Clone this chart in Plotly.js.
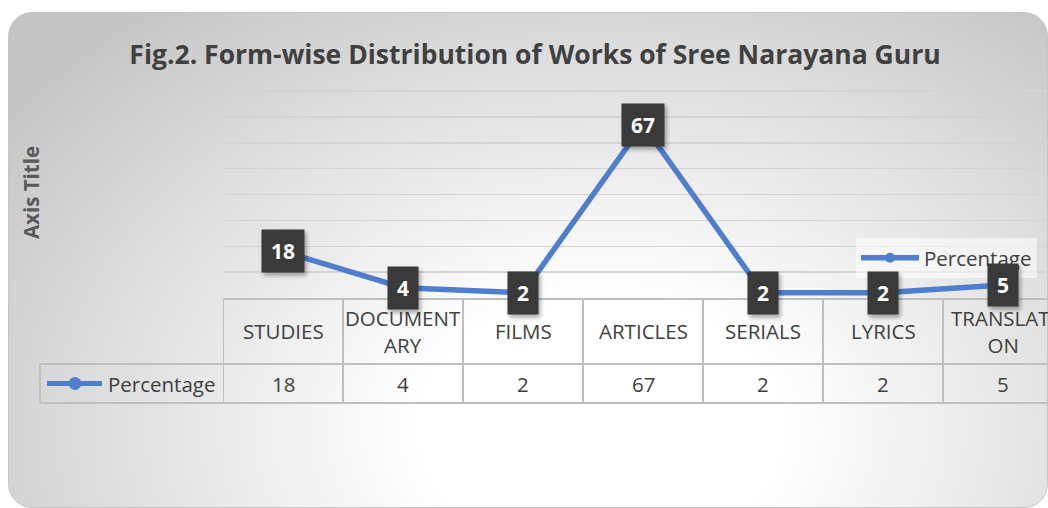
<!DOCTYPE html>
<html><head><meta charset="utf-8">
<script src="https://cdn.plot.ly/plotly-3.0.1.min.js"></script>
<style>
html,body{margin:0;padding:0;width:1048px;height:508px;overflow:hidden;background:#fff;}
#bg{position:absolute;left:8px;top:12px;width:1038px;height:494px;border:1px solid #c6c6c6;border-radius:24px;
background:radial-gradient(ellipse 72% 110% at 57% 84%, #ffffff 0%, #ffffff 24%, #c4c4c4 100%);}
#chart{position:absolute;left:0;top:0;width:1048px;height:508px;}
.annotation-text-g rect.bg{filter:drop-shadow(2px 3px 2px rgba(0,0,0,0.35));}
</style></head><body>
<div id="bg"></div><div id="chart"></div>
<script>
const categories = ["STUDIES","DOCUMENTARY","FILMS","ARTICLES","SERIALS","LYRICS","TRANSLATION"];
const categoryLabels = ["STUDIES","DOCUMENT<br>ARY","FILMS","ARTICLES","SERIALS","LYRICS","TRANSLATI<br>ON"];
const percentage = [18,4,2,67,2,2,5];
const yTickVals = [10, 20, 30, 40, 50, 60, 70, 80];
const seriesName = "Percentage";
const chartTitle = "Fig.2. Form-wise Distribution of Works of Sree Narayana Guru";
const yAxisTitle = "Axis Title";

const W = 1048, H = 508, ML = 223, MR = 0, MT = 87, MB = 210;
const PW = W - ML - MR, PH = H - MT - MB;
const YTOP = 80 * PH / 207;               // keeps 80 at pixel row 91
const px2x = p => (p - ML) / PW;          // pixel -> paper x
const py2y = p => (H - MB - p) / PH;      // pixel -> paper y
const FONT = "Open Sans, sans-serif";
const TXT = "#404040";
const LINE = "#4f7fcc";
const BORDER = "#bfbfbf";
const FS = 20.5;

const headerY = py2y(331), valueY = py2y(383.5);
const rowTop = py2y(364), rowBot = py2y(403), tableLeft = px2x(40);

const annotations = [];
const shapes = [];
categories.forEach((c, i) => {
  annotations.push({x: i, xref: 'x', y: headerY, yref: 'paper', text: categoryLabels[i], showarrow: false,
    xanchor: 'center', yanchor: 'middle', font: {family: FONT, size: FS, color: TXT}});
  annotations.push({x: i, xref: 'x', y: valueY, yref: 'paper', text: String(percentage[i]), showarrow: false,
    xanchor: 'center', yanchor: 'middle', font: {family: FONT, size: FS, color: TXT}});
  annotations.push({x: i, xref: 'x', y: percentage[i], yref: 'y', text: '<b>' + percentage[i] + '</b>', showarrow: false,
    xanchor: 'center', yanchor: 'middle', bgcolor: '#3a3a3a', borderpad: 9, height: 24,
    font: {family: FONT, size: 21, color: '#ffffff'}});
  shapes.push({type: 'line', xref: 'x', yref: 'paper', x0: i - 0.5, x1: i - 0.5, y0: 0, y1: rowBot,
    line: {color: BORDER, width: 2}});
});
// series name cell in the table
annotations.push({x: px2x(106), xref: 'paper', y: valueY, yref: 'paper', text: seriesName, showarrow: false,
  xanchor: 'left', yanchor: 'middle', font: {family: FONT, size: FS, color: TXT}});
// table row borders
[rowTop, rowBot].forEach(y => shapes.push({type: 'line', xref: 'paper', yref: 'paper', x0: tableLeft, x1: 1, y0: y, y1: y,
  line: {color: BORDER, width: 2}}));
shapes.push({type: 'line', xref: 'paper', yref: 'paper', x0: tableLeft, x1: tableLeft, y0: rowTop, y1: rowBot,
  line: {color: BORDER, width: 2}});
// legend key in table
shapes.push({type: 'line', xref: 'paper', yref: 'paper', x0: px2x(47), x1: px2x(102), y0: valueY, y1: valueY,
  line: {color: LINE, width: 5}});
shapes.push({type: 'circle', xref: 'paper', yref: 'paper', x0: px2x(69), x1: px2x(81), y0: py2y(377.5), y1: py2y(389.5),
  fillcolor: LINE, line: {color: LINE, width: 1}});

const trace = {
  type: 'scatter', mode: 'lines+markers', name: seriesName,
  x: categories, y: percentage,
  line: {color: LINE, width: 5.5}, marker: {color: LINE, size: 10},
  cliponaxis: false
};

const layout = {
  width: W, height: H, autosize: false,
  margin: {l: ML, r: MR, t: MT, b: MB, pad: 0},
  paper_bgcolor: 'rgba(0,0,0,0)', plot_bgcolor: 'rgba(0,0,0,0)',
  title: {text: '<b>' + chartTitle + '</b>', x: 535 / W, xanchor: 'center', xref: 'container',
    y: 1 - 55 / H, yanchor: 'middle', yref: 'container', font: {family: FONT, size: 26.5, color: TXT}},
  xaxis: {type: 'category', range: [-0.5, -0.5 + PW / 120], showticklabels: false, ticks: '',
    showgrid: false, showline: true, linecolor: BORDER, linewidth: 2, zeroline: false, fixedrange: true},
  yaxis: {range: [0, YTOP], tickvals: yTickVals, showticklabels: false, ticks: '',
    showgrid: true, gridcolor: '#d3d3d3', gridwidth: 1.5,
    zeroline: false, showline: false, fixedrange: true,
    title: {text: '<b>' + yAxisTitle + '</b>', standoff: 176, font: {family: FONT, size: 20.5, color: '#595959'}}},
  showlegend: true,
  legend: {x: px2x(856), y: py2y(238), xanchor: 'left', yanchor: 'top', bgcolor: 'rgba(255,255,255,0.55)',
    itemwidth: 58, font: {family: FONT, size: FS, color: TXT}},
  annotations: annotations, shapes: shapes
};
Plotly.newPlot('chart', [trace], layout, {displayModeBar: false, staticPlot: true});
</script>
</body></html>
